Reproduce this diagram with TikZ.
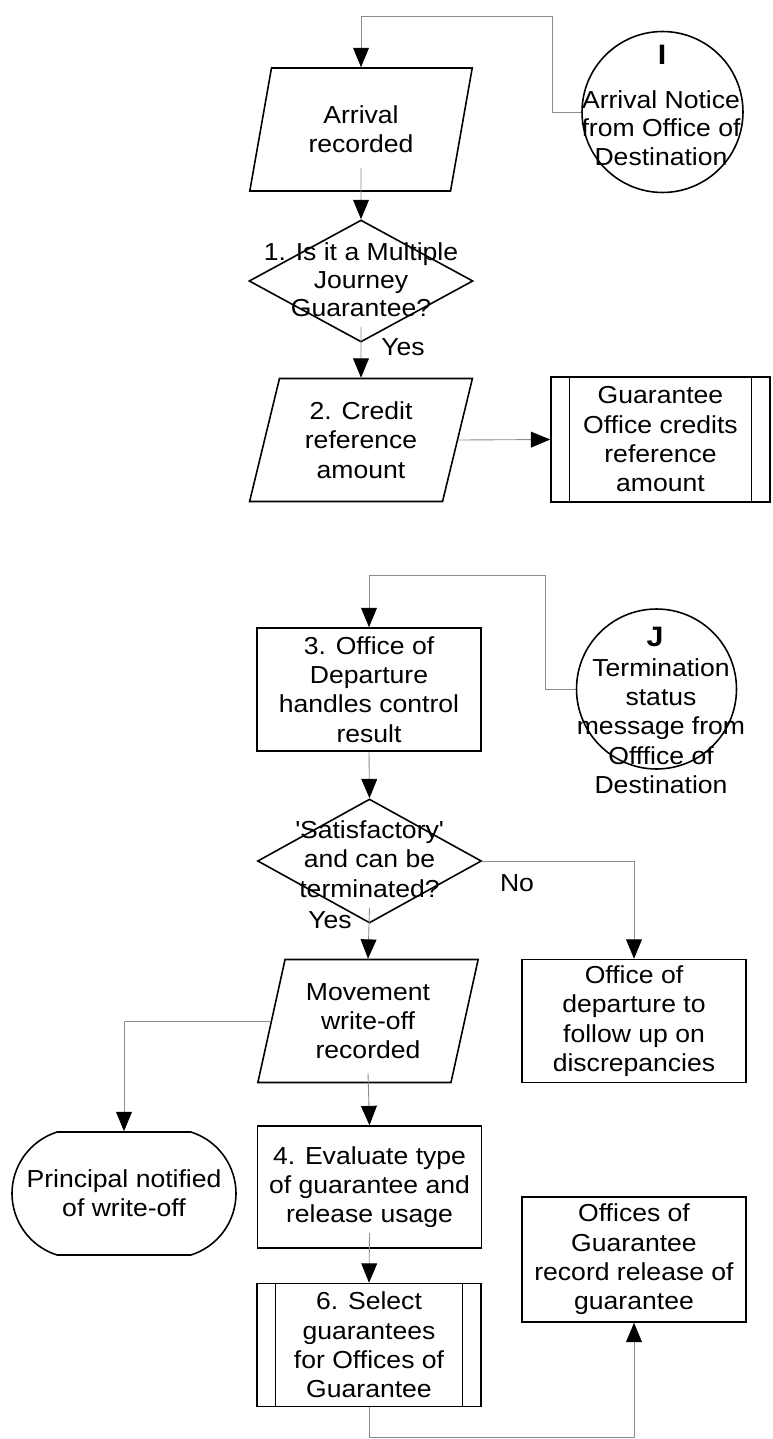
\documentclass[tikz,border=0pt]{standalone}
\usepackage{fontspec}
\setmainfont{Liberation Sans}[FakeStretch=1.08]
\usetikzlibrary{arrows.meta, shapes.geometric, shapes.misc}
\definecolor{linegray}{RGB}{140,140,140}

\begin{document}
\begin{tikzpicture}[x=0.02cm, y=-0.02cm,
    font=\fontsize{14pt}{16.7pt}\selectfont,
    blk/.style={draw, line width=0.9pt, fill=white, align=center, inner sep=0pt,
      minimum width=4.48cm, minimum height=2.46cm},
    io/.style={blk, trapezium, trapezium left angle=75, trapezium right angle=105,
      trapezium stretches=true},
    proc/.style={blk, rectangle},
    subproc/.style={proc, path picture={
        \draw[line width=0.9pt] ([xshift=0.37cm]path picture bounding box.north west)
          -- ([xshift=0.37cm]path picture bounding box.south west);
        \draw[line width=0.9pt] ([xshift=-0.37cm]path picture bounding box.north east)
          -- ([xshift=-0.37cm]path picture bounding box.south east);}},
    dec/.style={blk, diamond},
    offref/.style={draw, line width=0.9pt, fill=white, circle, minimum size=3.22cm, inner sep=0pt},
    term/.style={blk, rounded rectangle, rounded rectangle arc length=145},
    txt/.style={align=center, inner sep=0pt},
    conn/.style={draw=linegray, line width=0.5pt, -{Triangle[length=11pt, width=9pt, color=black]}}
  ]
  \useasboundingbox (0,0) rectangle (772,1439);

  % first part: arrival
  \node[offref] (ci) at (662.5,112) {};
  \node[txt, font=\fontsize{16pt}{18pt}\bfseries] (ilbl) at (662,55) {I};
  \node[txt, font=\fontsize{14pt}{16.2pt}\selectfont] (itxt) at (661,128) {Arrival Notice\\from Office of\\Destination};
  \node[io] (arr) at (361,129.5) {Arrival\\recorded};
  \node[dec, minimum height=2.44cm] (q1) at (361,281) {};
  \node[txt, font=\fontsize{14pt}{16pt}\selectfont] (q1txt) at (361,280) {1. Is it a Multiple\\Journey\\Guarantee?};
  \node[io] (cr) at (361,440) {2. Credit\\reference\\amount};
  \node[subproc, minimum width=4.38cm, minimum height=2.5cm] (gob) at (660.5,439.5) {Guarantee\\Office credits\\reference\\amount};
  \node[txt] (yes1) at (403,347) {Yes};

  \coordinate (ik) at (552,16);
  \draw[conn] (ci.west) -| (ik) -| (arr.north);
  \draw[conn] ([yshift=0.48cm]arr.south) -- (q1.north);
  \draw[conn] ([yshift=0.32cm]q1.south) -- (cr.north);
  \draw[conn] (cr.east) -- (gob.west);

  % second part: termination
  \node[offref, minimum size=3.2cm] (cj) at (656.5,689) {};
  \node[txt, font=\fontsize{16pt}{18pt}\bfseries] (jlbl) at (655,637) {J};
  \node[txt] (jtxt) at (661,726) {Termination\\status\\message from\\Offfice of\\Destination};
  \node[proc] (ctl) at (369,689.5) {3. Office of\\Departure\\handles control\\result};
  \node[dec, minimum height=2.48cm] (q2) at (369.5,861) {};
  \node[txt] (q2txt) at (369.5,859) {\textquotesingle Satisfactory\textquotesingle\\and can be\\terminated?};
  \node[io, minimum width=4.44cm] (mv) at (368,1021) {Movement\\write-off\\recorded};
  \node[proc] (dep) at (634,1021) {Office of\\departure to\\follow up on\\discrepancies};
  \node[term] (tn) at (124,1193.5) {Principal notified\\of write-off};
  \node[proc, minimum height=2.44cm] (ev) at (369.5,1187) {4. Evaluate type\\of guarantee and\\release usage};
  \node[subproc] (sel) at (369,1345) {6. Select\\guarantees\\for Offices of\\Guarantee};
  \node[proc, minimum height=2.5cm] (rec) at (634,1259.5) {Offices of\\Guarantee\\record release of\\guarantee};
  \node[txt] (yes2) at (330,920) {Yes};
  \node[txt] (no) at (517,883) {No};

  \coordinate (jk) at (545,575);
  \coordinate (sk) at (369,1437);
  \draw[conn] (cj.west) -| (jk) -| (ctl.north);
  \draw[conn] (ctl.south) -- (q2.north);
  \draw[conn] ([yshift=0.32cm]q2.south) -- (mv.north);
  \draw[conn] (q2.east) -| (dep.north);
  \draw[conn] (mv.west) -| (tn.north);
  \draw[conn] ([yshift=0.2cm]mv.south) -- (ev.north);
  \draw[conn] ([yshift=0.32cm]ev.south) -- (sel.north);
  \draw[conn] (sel.south) -- (sk) -| (rec.south);
\end{tikzpicture}
\end{document}
